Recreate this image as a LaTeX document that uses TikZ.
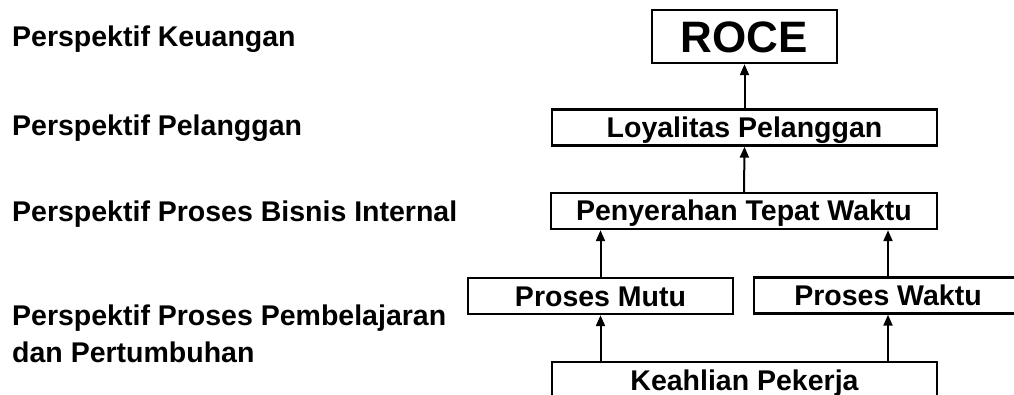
\documentclass[tikz,border=0pt]{standalone}
\usepackage{fontspec}
\setmainfont{Liberation Sans}
\usetikzlibrary{arrows.meta}
\tikzset{
  lbl/.style={anchor=base west, inner sep=0pt, font=\bfseries\fontsize{28.5}{37}\selectfont},
  box/.style={draw, line width=2.4pt, inner sep=0pt, text height=20pt, text depth=0pt,
    minimum height=36pt, font=\bfseries\fontsize{28.5}{34}\selectfont},
  arr/.style={line width=2pt, -{Triangle[length=11pt,width=9pt]}}
}
\begin{document}
\begin{tikzpicture}[x=1pt,y=-1pt]
\clip (0,0) rectangle (1014,395);
\fill[white] (0,0) rectangle (1014,395);
% left labels
\node[lbl] (l1) at (12,47) {Perspektif Keuangan};
\node[lbl] (l2) at (12,136) {Perspektif Pelanggan};
\node[lbl] (l3) at (12,222) {Perspektif Proses Bisnis Internal};
\node[lbl, anchor=north west, align=left] (l4) at (12,305) {Perspektif Proses Pembelajaran\\dan Pertumbuhan};
% boxes
\node[box, minimum width=185pt, minimum height=53pt, text height=32pt,
  font=\bfseries\fontsize{44}{50}\selectfont] (roce) at (744.5,36.5) {ROCE};
\node[box, minimum width=385pt] (loy) at (744.5,127.5) {Loyalitas Pelanggan};
\node[box, minimum width=386pt] (pen) at (744,211) {Penyerahan Tepat Waktu};
\node[box, minimum width=265pt] (mutu) at (600.5,296) {Proses Mutu};
\node[box, minimum width=268pt] (waktu) at (888,295.5) {Proses Waktu};
\node[box, minimum width=385pt] (keah) at (744.5,380) {Keahlian Pekerja};
% arrows
\draw[arr] (loy.north) -- (roce.south);
\draw[arr] (pen.north) -- (loy.south);
\draw[arr] (mutu.north) -- (mutu.north |- pen.south);
\draw[arr] (waktu.north) -- (waktu.north |- pen.south);
\draw[arr] (mutu.south |- keah.north) -- (mutu.south);
\draw[arr] (waktu.south |- keah.north) -- (waktu.south);
\end{tikzpicture}
\end{document}
